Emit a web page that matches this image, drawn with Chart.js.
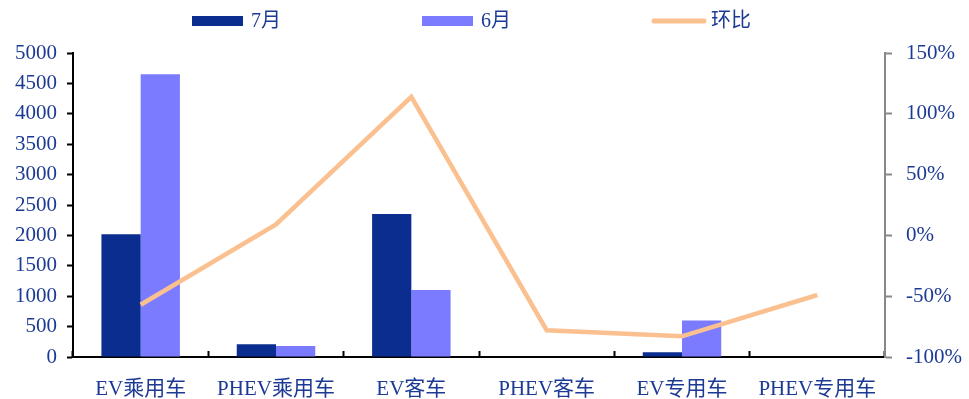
<!DOCTYPE html>
<html>
<head>
<meta charset="utf-8">
<script src="https://cdn.jsdelivr.net/npm/chart.js@4"></script>
<style>
  html, body { margin: 0; padding: 0; background: #fff; }
  #wrap { width: 969px; height: 399px; }
</style>
</head>
<body>
<div id="wrap"><canvas id="chart" width="969" height="399"></canvas></div>
<script>
// categories and series
const categories = ['EV乘用车', 'PHEV乘用车', 'EV客车', 'PHEV客车', 'EV专用车', 'PHEV专用车'];
const julyValues = [2020, 210, 2350, 0, 80, 0];
const juneValues = [4650, 180, 1100, 0, 600, 0];
const momChange = [-57, 9, 114, -78, -83, -49];   // percent
const seriesNames = ['7月', '6月', '环比'];

const textColor = '#1c3a94';
const fontFamily = '"Liberation Serif", "Times New Roman", "Noto Sans CJK SC", serif';
const colors = ['#0b2d8f', '#7b7bff', '#fbc08f'];

// legend drawn by hand so the items can sit far apart
const spreadLegend = {
    id: 'spreadLegend',
    afterDraw(chart) {
        const ctx = chart.ctx;
        const starts = [192, 422, 652];
        const y = 21;
        ctx.save();
        ctx.font = '20px ' + fontFamily;
        ctx.textBaseline = 'middle';
        chart.data.datasets.forEach((ds, i) => {
            const x = starts[i];
            if (ds.type === 'line') {
                ctx.strokeStyle = ds.borderColor;
                ctx.lineWidth = 5;
                ctx.lineCap = 'round';
                ctx.beginPath();
                ctx.moveTo(x + 2, y);
                ctx.lineTo(x + 52, y);
                ctx.stroke();
            } else {
                ctx.fillStyle = ds.backgroundColor;
                ctx.fillRect(x, y - 5, 51, 10);
            }
            ctx.fillStyle = textColor;
            ctx.fillText(ds.label, x + 59, y + 1);
        });
        ctx.restore();
    }
};

new Chart(document.getElementById('chart'), {
    data: {
        labels: categories,
        datasets: [
            {
                type: 'bar',
                label: seriesNames[0],
                data: julyValues,
                yAxisID: 'y',
                backgroundColor: colors[0],
                categoryPercentage: 0.58,
                barPercentage: 1,
                order: 1
            },
            {
                type: 'bar',
                label: seriesNames[1],
                data: juneValues,
                yAxisID: 'y',
                backgroundColor: colors[1],
                categoryPercentage: 0.58,
                barPercentage: 1,
                order: 1
            },
            {
                type: 'line',
                label: seriesNames[2],
                data: momChange,
                yAxisID: 'y1',
                borderColor: colors[2],
                backgroundColor: colors[2],
                borderWidth: 4.5,
                pointRadius: 0,
                tension: 0,
                order: 0
            }
        ]
    },
    options: {
        responsive: false,
        animation: false,
        layout: { padding: { top: 53, left: 0, right: 0, bottom: 0 } },
        plugins: {
            legend: { display: false },
            tooltip: { enabled: false }
        },
        scales: {
            x: {
                offset: true,
                afterFit(scale) { scale.height = 42; },
                grid: {
                    offset: true,
                    drawOnChartArea: false,
                    drawTicks: true,
                    tickLength: -6,
                    tickWidth: 2,
                    tickColor: '#000'
                },
                border: { color: '#000', width: 2 },
                ticks: {
                    color: textColor,
                    padding: 26,
                    font: { family: fontFamily, size: 21 },
                    maxRotation: 0,
                    autoSkip: false
                }
            },
            y: {
                position: 'left',
                min: 0,
                max: 5000,
                afterFit(scale) { scale.width = 73; },
                grid: {
                    drawOnChartArea: false,
                    tickLength: 6,
                    tickWidth: 2,
                    tickColor: '#000'
                },
                border: { color: '#000', width: 2 },
                ticks: {
                    stepSize: 500,
                    color: textColor,
                    padding: 10,
                    font: { family: fontFamily, size: 21 },
                    callback: v => String(v)
                }
            },
            y1: {
                position: 'right',
                min: -100,
                max: 150,
                afterFit(scale) { scale.width = 84; },
                grid: {
                    drawOnChartArea: false,
                    tickLength: 7,
                    tickWidth: 2,
                    tickColor: '#888'
                },
                border: { color: '#888', width: 2 },
                ticks: {
                    stepSize: 50,
                    color: textColor,
                    padding: 14,
                    font: { family: fontFamily, size: 21 },
                    callback: v => v + '%'
                }
            }
        }
    },
    plugins: [spreadLegend]
});
</script>
</body>
</html>
